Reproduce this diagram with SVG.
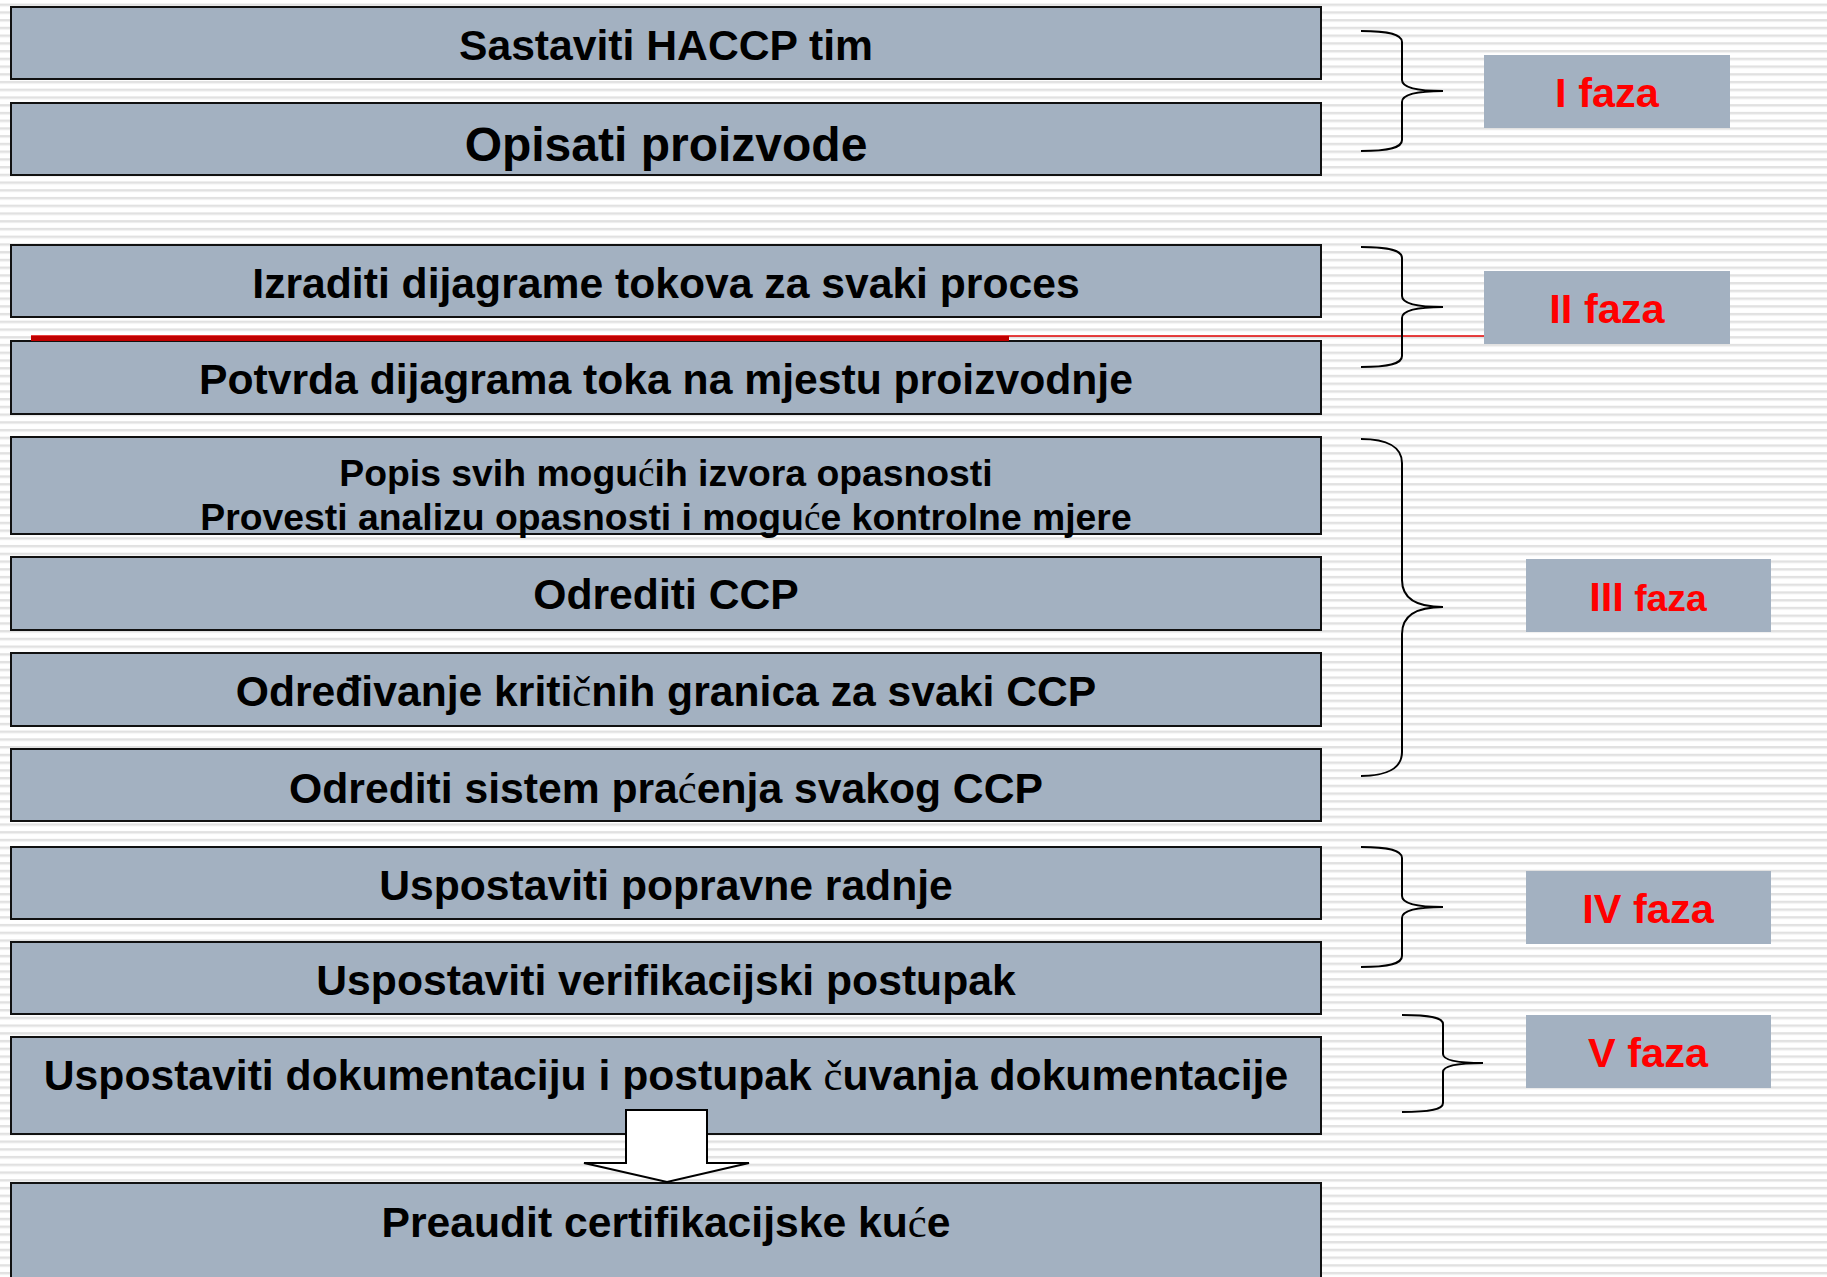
<svg xmlns="http://www.w3.org/2000/svg" width="1827" height="1277" viewBox="0 0 1827 1277">
<defs>
<pattern id="stripes" patternUnits="userSpaceOnUse" x="0" y="11.3" width="40" height="7.734">
<rect width="40" height="7.734" fill="#ffffff"/>
<rect y="0" width="40" height="2" fill="#e1e1e1"/>
<rect y="2" width="40" height="1" fill="#efefef"/>
</pattern>
<style>
.box{fill:#a3b1c1;stroke:#111;stroke-width:2}
.t{font-family:"Liberation Sans",Arial,sans-serif;font-weight:bold;font-size:42.67px;fill:#000;text-anchor:middle}
.ph{fill:#a3b1c1}
.pt{font-family:"Liberation Sans",Arial,sans-serif;font-weight:bold;font-size:41.5px;fill:#ff0000;text-anchor:middle}
.br{fill:none;stroke:#000;stroke-width:2}
.sc{font-family:"Liberation Serif","Times New Roman",serif;font-weight:normal}
</style>
</defs>
<rect width="1827" height="1277" fill="url(#stripes)"/>

<g id="n1"><rect class="box" x="11" y="7" width="1310" height="72"/><text class="t" x="666" y="60">Sastaviti HACCP tim</text></g>
<g id="n2"><rect class="box" x="11" y="103" width="1310" height="72"/><text class="t" x="666" y="161" style="font-size:48px">Opisati proizvode</text></g>
<g id="n3"><rect class="box" x="11" y="245" width="1310" height="72"/><text class="t" x="666" y="298">Izraditi dijagrame tokova za svaki proces</text></g>
<g id="n4"><rect class="box" x="11" y="341" width="1310" height="73"/><text class="t" x="666" y="394">Potvrda dijagrama toka na mjestu proizvodnje</text></g>
<g id="n5"><rect class="box" x="11" y="437" width="1310" height="97"/>
<text class="t" x="666" y="486" style="font-size:37.33px">Popis svih mogu<tspan class="sc">ć</tspan>ih izvora opasnosti</text>
<text class="t" x="666" y="530" style="font-size:37.33px">Provesti analizu opasnosti i mogu<tspan class="sc">ć</tspan>e kontrolne mjere</text></g>
<g id="n6"><rect class="box" x="11" y="557" width="1310" height="73"/><text class="t" x="666" y="609">Odrediti CCP</text></g>
<g id="n7"><rect class="box" x="11" y="653" width="1310" height="73"/><text class="t" x="666" y="706">Određivanje kriti<tspan class="sc">č</tspan>nih granica za svaki CCP</text></g>
<g id="n8"><rect class="box" x="11" y="749" width="1310" height="72"/><text class="t" x="666" y="803">Odrediti sistem pra<tspan class="sc">ć</tspan>enja svakog CCP</text></g>
<g id="n9"><rect class="box" x="11" y="847" width="1310" height="72"/><text class="t" x="666" y="900">Uspostaviti popravne radnje</text></g>
<g id="n10"><rect class="box" x="11" y="942" width="1310" height="72"/><text class="t" x="666" y="995">Uspostaviti verifikacijski postupak</text></g>
<g id="n11"><rect class="box" x="11" y="1037" width="1310" height="97"/><text class="t" x="666" y="1090">Uspostaviti dokumentaciju i postupak <tspan class="sc">č</tspan>uvanja dokumentacije</text></g>
<g id="n12"><rect class="box" x="11" y="1183" width="1310" height="120"/><text class="t" x="666" y="1237">Preaudit certifikacijske ku<tspan class="sc">ć</tspan>e</text></g>

<g id="redline">
<line x1="31" y1="336" x2="1484" y2="336" stroke="#e00000" stroke-width="1.5"/>
<rect x="31" y="336" width="978" height="5" fill="#c00000"/>
</g>

<g id="p1"><rect class="ph" x="1484" y="55" width="246" height="73"/><text class="pt" x="1607" y="107">I faza</text></g>
<g id="p2"><rect class="ph" x="1484" y="271" width="246" height="73"/><text class="pt" x="1607" y="323">II faza</text></g>
<g id="p3"><rect class="ph" x="1526" y="559" width="245" height="73"/><text class="pt" x="1648" y="611">III<tspan style="font-size:37.33px"> faza</tspan></text></g>
<g id="p4"><rect class="ph" x="1526" y="871" width="245" height="73"/><text class="pt" x="1648" y="923">IV faza</text></g>
<g id="p5"><rect class="ph" x="1526" y="1015" width="245" height="73"/><text class="pt" x="1648" y="1067">V faza</text></g>

<g id="connectors">
<path class="br" d="M1361,31 C1389.7,31 1402,34.3 1402,42 L1402,80 C1402,87.2 1414.3,91 1443,91 C1414.3,91 1402,94.8 1402,102 L1402,140 C1402,147.7 1389.7,151 1361,151"/>
<path class="br" d="M1361,247 C1389.7,247 1402,250.3 1402,258 L1402,296 C1402,303.2 1414.3,307 1443,307 C1414.3,307 1402,310.8 1402,318 L1402,356 C1402,363.7 1389.7,367 1361,367"/>
<path class="br" d="M1361,439 C1387,439 1402,447 1402,463 L1402,580 C1402,596 1413,607 1443,607 C1413,607 1402,618 1402,634 L1402,752 C1402,768 1387,776 1361,776"/>
<path class="br" d="M1361,847 C1389.7,847 1402,850.3 1402,858 L1402,896 C1402,903.2 1414.3,907 1443,907 C1414.3,907 1402,910.8 1402,918 L1402,956 C1402,963.7 1389.7,967 1361,967"/>
<path class="br" d="M1402,1015 C1430.7,1015 1443,1017.7 1443,1024 L1443,1054 C1443,1060 1455,1063 1483,1063 C1455,1063 1443,1066 1443,1072 L1443,1103 C1443,1109.3 1430.7,1112 1402,1112"/>
<polygon points="626,1110 707,1110 707,1163 749,1163 667,1182 584,1163 626,1163" fill="#ffffff" stroke="#000" stroke-width="2" stroke-linejoin="miter"/>
</g>
</svg>
